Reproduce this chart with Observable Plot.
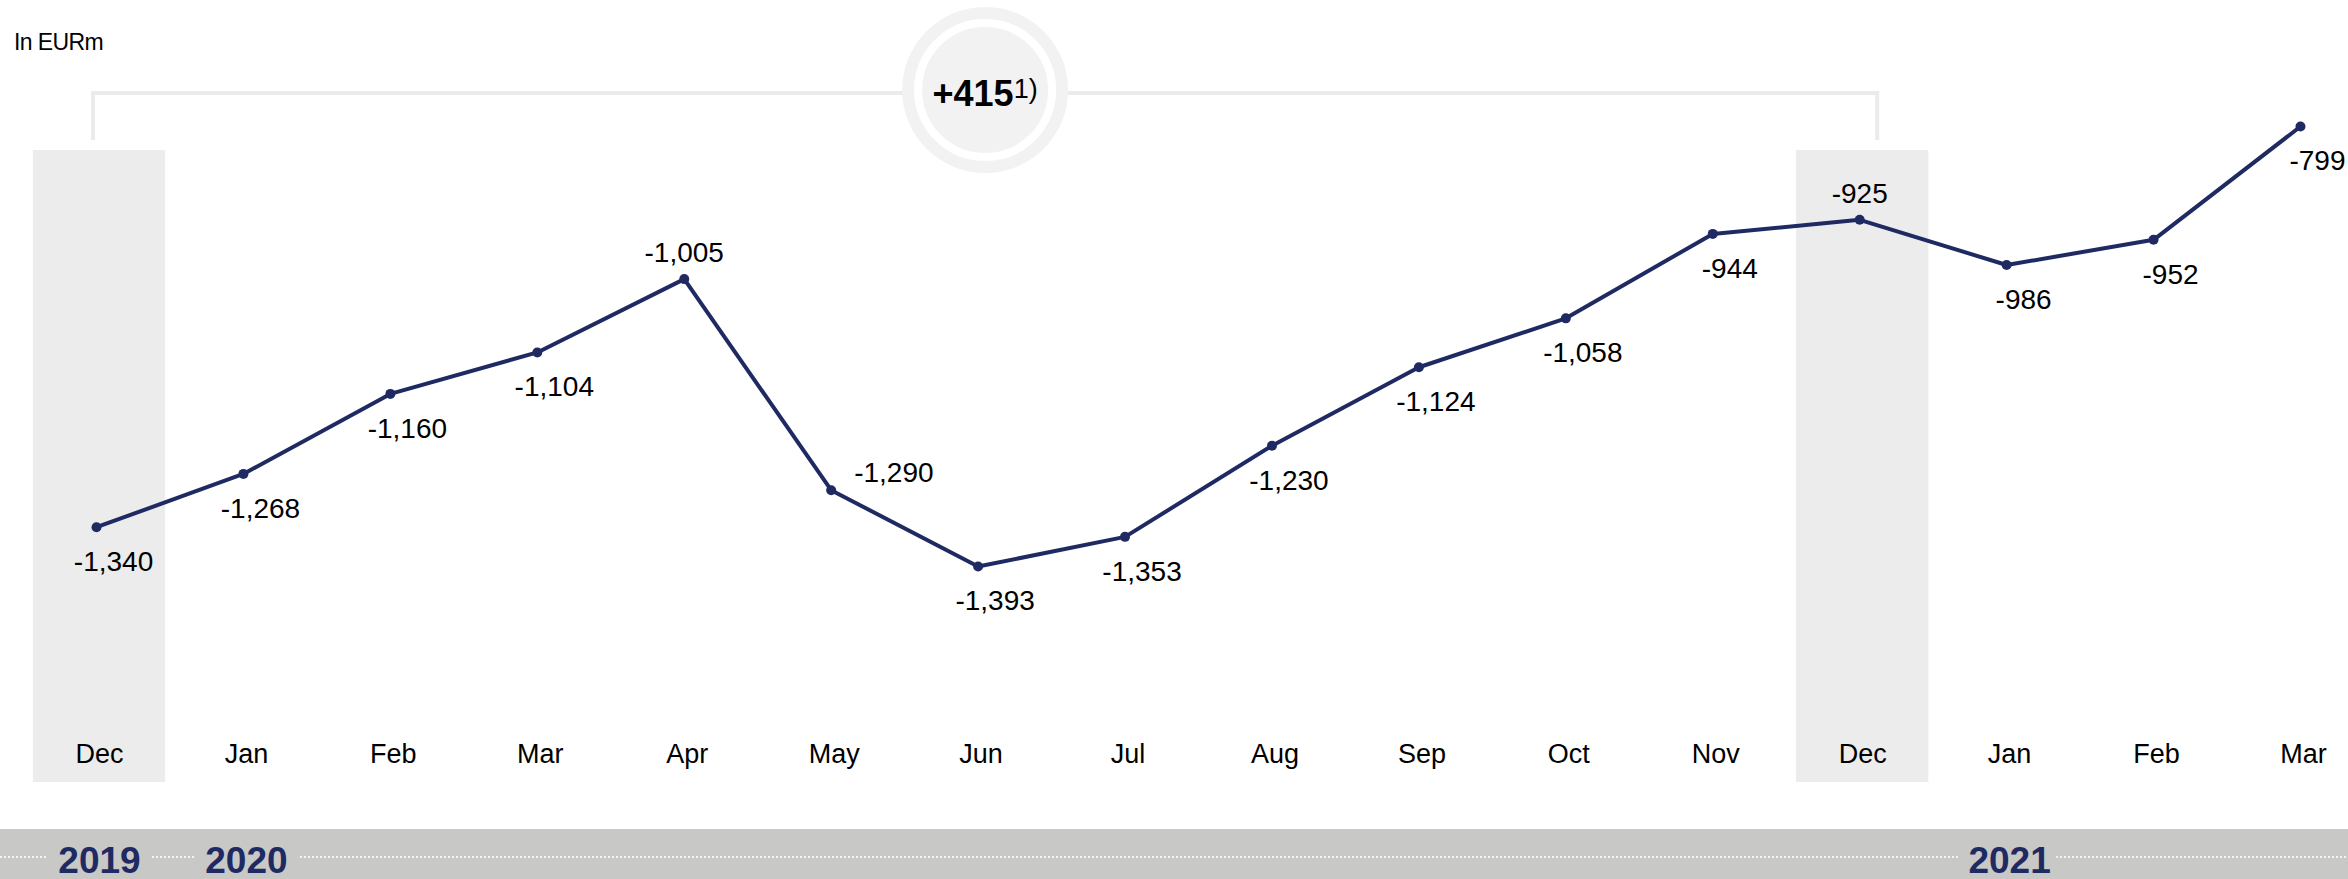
<!DOCTYPE html>
<html><head><meta charset="utf-8">
<script src="https://cdn.jsdelivr.net/npm/d3@7"></script>
<script src="https://cdn.jsdelivr.net/npm/@observablehq/plot@0.6"></script>
<style>
html,body{margin:0;padding:0;background:#fff;overflow:hidden;}
#wrap{position:relative;width:2348px;height:879px;font-family:"Liberation Sans",Arial,sans-serif;}
#unit{position:absolute;left:14px;top:31px;font-size:23px;line-height:1;letter-spacing:-0.6px;color:#000;}
#chart{position:absolute;left:0;top:0;}
</style></head><body>
<div id="wrap"><div id="chart"></div><div id="unit">In EURm</div></div>
<script>
// ---- data ----
const months = ["Dec","Jan","Feb","Mar","Apr","May","Jun","Jul","Aug","Sep","Oct","Nov","Dec","Jan","Feb","Mar"];
const years  = [2019,2020,2020,2020,2020,2020,2020,2020,2020,2020,2020,2020,2020,2021,2021,2021];
const values = [-1340,-1268,-1160,-1104,-1005,-1290,-1393,-1353,-1230,-1124,-1058,-944,-925,-986,-952,-799];
const labelSide = ["below","below","below","below","above","right","below","below","below","below","below","below","above","below","below","below"];
const footnote = "1)";

// ---- table ----
const data = months.map((m, i) => ({key: m + " " + years[i], month: m, year: years[i], value: values[i], side: labelSide[i]}));
const keys = data.map(d => d.key);
const yearEnds = data.filter(d => d.month === "Dec");
const yearStarts = data.filter((d, i) => i === 0 || d.year !== data[i - 1].year);
const fmt = v => v.toLocaleString("en-US");
const navy = "#1f2a63";
const font = "'Liberation Sans', Arial, sans-serif";

const plot = Plot.plot({
  width: 2348, height: 879,
  marginTop: 150, marginBottom: 97, marginLeft: 0, marginRight: 0,
  style: {fontFamily: font, background: "transparent", color: "#000", overflow: "visible"},
  x: {domain: keys, range: [18.2, 2383.8], padding: 0.1, round: false, axis: null},
  y: {domain: d3.extent(values), range: [566, 126], axis: null},
  marks: [
    Plot.cell(yearEnds, {x: "key", fill: "#ececec", inset: 0}),
    Plot.axisX({tickSize: 0, tickPadding: 0, dy: -38.5, fontSize: 27, label: null, fill: "#000",
                tickFormat: k => k.split(" ")[0]}),
    Plot.line(data, {x: "key", y: "value", stroke: navy, strokeWidth: 4, dx: -3}),
    Plot.dot(data, {x: "key", y: "value", r: 5, fill: navy, dx: -3}),
    Plot.text(data.filter(d => d.side === "below"), {x: "key", y: "value", text: d => fmt(d.value),
      lineAnchor: "top", dy: 24, dx: 14, fontSize: 28, fill: "#000"}),
    Plot.text(data.filter(d => d.side === "above"), {x: "key", y: "value", text: d => fmt(d.value),
      lineAnchor: "bottom", dy: -17, dx: -3, fontSize: 28, fill: "#000"}),
    Plot.text(data.filter(d => d.side === "right"), {x: "key", y: "value", text: d => fmt(d.value),
      lineAnchor: "bottom", textAnchor: "start", dy: -8, dx: 20, fontSize: 28, fill: "#000"}),
    Plot.text(yearStarts, {x: "key", text: d => String(d.year), frameAnchor: "bottom", lineAnchor: "bottom",
      dy: 90, fontSize: 37, fontWeight: "bold", fill: navy, stroke: "#c8c8c6", strokeWidth: 24, paintOrder: "stroke"})
  ]
});
document.getElementById("chart").appendChild(plot);

// ---- decorations using the plot's own scales ----
const svg = d3.select(plot);
const xs = plot.scale("x");
const cx = k => xs.apply(k) + xs.bandwidth / 2;

// bottom timeline band (behind year labels)
const band = svg.insert("g", ":first-child");
band.append("rect").attr("x", 0).attr("y", 829).attr("width", 2348).attr("height", 50).attr("fill", "#c8c8c6");
band.append("line").attr("x1", 0).attr("x2", 2348).attr("y1", 857).attr("y2", 857)
  .attr("stroke", "#f4f4f4").attr("stroke-width", 2).attr("stroke-dasharray", "2 2");

// bracket + circle annotation between the two year ends
const x0 = cx(yearEnds[0].key) - 6, x1 = cx(yearEnds[1].key) + 15;
const mid = (x0 + x1) / 2;
const ann = svg.append("g");
ann.append("path").attr("d", `M${x0},140V93H${x1}V140`).attr("fill", "none")
  .attr("stroke", "#ebebeb").attr("stroke-width", 4);
ann.append("circle").attr("cx", mid).attr("cy", 90).attr("r", 83).attr("fill", "#f2f2f2");
ann.append("circle").attr("cx", mid).attr("cy", 90).attr("r", 67).attr("fill", "#f2f2f2")
  .attr("stroke", "#fff").attr("stroke-width", 8);
const delta = yearEnds[1].value - yearEnds[0].value;
const t = ann.append("text").attr("x", mid).attr("y", 106).attr("text-anchor", "middle")
  .attr("font-family", font).attr("fill", "#000");
t.append("tspan").attr("font-size", 36).attr("font-weight", "bold").text((delta > 0 ? "+" : "") + delta);
t.append("tspan").attr("font-size", 27).attr("dy", -8).text(footnote);
</script>
</body></html>
